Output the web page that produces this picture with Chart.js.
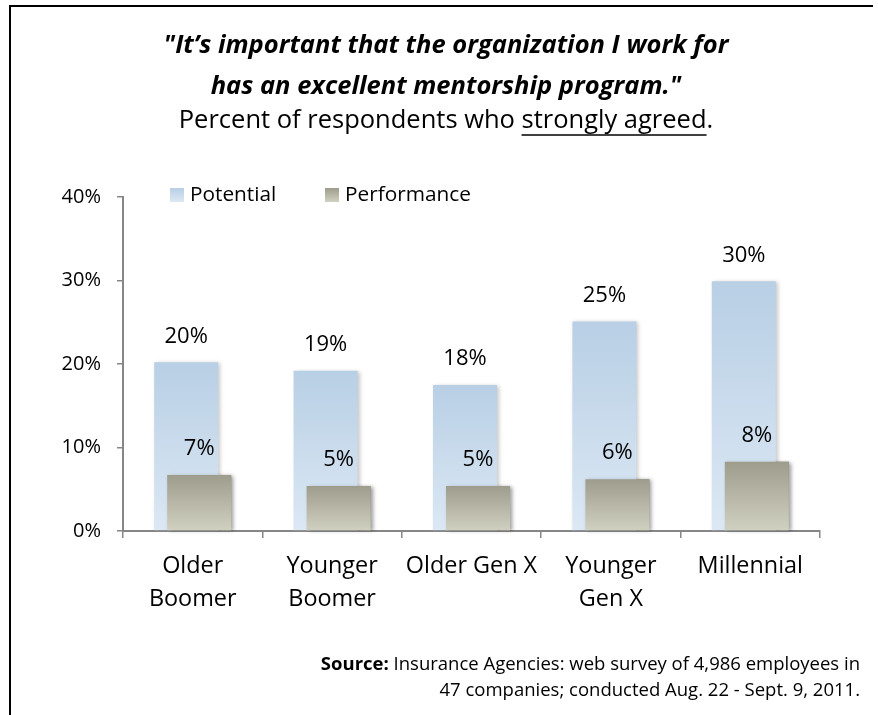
<!DOCTYPE html>
<html>
<head>
<meta charset="utf-8">
<script src="https://cdn.jsdelivr.net/npm/chart.js@4.4.1/dist/chart.umd.min.js"></script>
<style>
html,body{margin:0;padding:0;background:#ffffff;}
canvas{display:block;}
</style>
</head>
<body>
<canvas id="c" width="878" height="715"></canvas>
<script>
// ---- data ----
const categories = [["Older", "Boomer"], ["Younger", "Boomer"], "Older Gen X", ["Younger", "Gen X"], "Millennial"];
const seriesNames = ["Potential", "Performance"];
const potential = [20.2, 19.2, 17.5, 25.1, 29.9];
const performance = [6.7, 5.4, 5.4, 6.2, 8.3];
const yTicks = [0, 10, 20, 30, 40];
const titleLines = ['"It\u2019s important that the organization I work for', 'has an excellent mentorship program."'];
const subtitleParts = ["Percent of respondents who ", "strongly agreed", "."];
const sourceBold = "Source:";
const sourceLines = [" Insurance Agencies: web survey of 4,986 employees in", "47 companies; conducted Aug. 22 - Sept. 9, 2011."];

// ---- styles ----
const FONT = "'Open Sans', 'Noto Sans', sans-serif";
const potColors = ["#b8cfe5", "#dce8f4"];
const perfColors = ["#9d9c8d", "#d1d1c1"];
const axisColor = "#868686";

function barGradient(cols) {
  return function (ctx) {
    const chart = ctx.chart;
    if (!chart.chartArea || ctx.type !== "data") return cols[0];
    const ys = chart.scales.y;
    const top = ys.getPixelForValue(ctx.raw);
    const bottom = ys.getPixelForValue(0);
    if (!isFinite(top) || !isFinite(bottom) || top === bottom) return cols[0];
    const g = chart.ctx.createLinearGradient(0, top, 0, bottom);
    g.addColorStop(0, cols[0]);
    g.addColorStop(1, cols[1]);
    return g;
  };
}

// shadows for bars, Performance redrawn in front, then value labels
const barsPlugin = {
  id: "barsFront",
  beforeDatasetsDraw(chart) {
    const c = chart.ctx;
    c.save();
    c.shadowColor = "rgba(0,0,0,0.22)";
    c.shadowBlur = 4;
    c.shadowOffsetX = 2;
    c.shadowOffsetY = 1;
  },
  afterDatasetsDraw(chart) {
    const c = chart.ctx;
    // bring Performance (dataset 1) to the front
    chart.getDatasetMeta(1).controller.draw();
    c.restore();

    c.save();
    c.font = "22px " + FONT;
    c.fillStyle = "#000";
    c.textAlign = "center";
    c.textBaseline = "middle";
    chart.data.datasets.forEach((ds, di) => {
      const meta = chart.getDatasetMeta(di);
      meta.data.forEach((bar, i) => {
        c.fillText(Math.round(ds.data[i]) + "%", bar.x, bar.y - 26);
      });
    });
    c.restore();
  }
};

const decorPlugin = {
  id: "decor",
  afterDraw(chart) {
    const c = chart.ctx;
    c.save();
    // frame
    c.strokeStyle = "#000";
    c.lineWidth = 2;
    c.beginPath();
    c.moveTo(10, 715);
    c.lineTo(10, 6);
    c.lineTo(873, 6);
    c.stroke();

    const cx = 446;
    c.fillStyle = "#000";
    c.textBaseline = "middle";
    c.textAlign = "center";
    // title
    c.font = "italic bold 25.5px " + FONT;
    c.fillText(titleLines[0], cx, 46);
    c.fillText(titleLines[1], cx, 87);
    // subtitle with underline
    c.font = "25.5px " + FONT;
    c.textAlign = "left";
    const full = subtitleParts.join("");
    const w = c.measureText(full).width;
    let x = cx - w / 2;
    const sy = 121;
    c.fillText(subtitleParts[0], x, sy);
    x += c.measureText(subtitleParts[0]).width;
    const uw = c.measureText(subtitleParts[1]).width;
    c.fillText(subtitleParts[1], x, sy);
    c.lineWidth = 1.5;
    c.beginPath();
    c.moveTo(x, sy + 14);
    c.lineTo(x + uw, sy + 14);
    c.stroke();
    x += uw;
    c.fillText(subtitleParts[2], x, sy);

    // legend
    const legendItems = [
      { x: 170, cols: potColors },
      { x: 325, cols: perfColors }
    ];
    c.font = "20.8px " + FONT;
    chart.data.datasets.forEach((ds, i) => {
      const it = legendItems[i];
      const g = c.createLinearGradient(0, 188, 0, 202);
      g.addColorStop(0, it.cols[0]);
      g.addColorStop(1, it.cols[1]);
      c.fillStyle = g;
      c.fillRect(it.x, 188, 14, 14);
      c.fillStyle = "#000";
      c.fillText(ds.label, it.x + 20, 195);
    });

    // source
    c.textAlign = "right";
    const fs = "18.5px ";
    c.font = fs + FONT;
    const rx = 860;
    const w1 = c.measureText(sourceLines[0]).width;
    c.fillText(sourceLines[0], rx, 665);
    c.font = "bold " + fs + FONT;
    c.fillText(sourceBold, rx - w1, 665);
    c.font = fs + FONT;
    c.fillText(sourceLines[1], rx, 691);
    c.restore();
  }
};

const sep = 13;       // px between the two bar centres
const barW = 64;      // px bar width
const catW = 697 / categories.length;

new Chart(document.getElementById("c"), {
  type: "bar",
  data: {
    labels: categories,
    datasets: [
      {
        label: seriesNames[0],
        data: potential,
        backgroundColor: barGradient(potColors),
        borderWidth: 0,
        categoryPercentage: (2 * sep) / catW,
        barPercentage: barW / sep
      },
      {
        label: seriesNames[1],
        data: performance,
        backgroundColor: barGradient(perfColors),
        borderWidth: 0,
        categoryPercentage: (2 * sep) / catW,
        barPercentage: barW / sep
      }
    ]
  },
  options: {
    responsive: false,
    animation: false,
    devicePixelRatio: 1,
    layout: { padding: { top: 197, left: 0, right: 58, bottom: 0 } },
    plugins: {
      legend: { display: false },
      title: { display: false },
      tooltip: { enabled: false }
    },
    scales: {
      x: {
        type: "category",
        offset: true,
        grid: {
          display: true,
          offset: true,
          drawOnChartArea: false,
          drawTicks: true,
          tickLength: 7,
          color: axisColor,
          lineWidth: 1.5
        },
        border: { display: true, color: axisColor, width: 2 },
        ticks: {
          color: "#000",
          font: { family: FONT, size: 23.4, lineHeight: 1.41 },
          padding: 11.5,
          maxRotation: 0,
          autoSkip: false
        },
        afterFit(s) { s.height = 715 - 531; }
      },
      y: {
        min: 0,
        max: 40,
        afterBuildTicks(s) { s.ticks = yTicks.map(v => ({ value: v })); },
        ticks: {
          color: "#000",
          font: { family: FONT, size: 20 },
          padding: 16,
          callback: v => v + "%"
        },
        grid: {
          drawOnChartArea: false,
          drawTicks: true,
          tickLength: 6,
          color: axisColor,
          lineWidth: 1.5
        },
        border: { display: true, color: axisColor, width: 2 },
        afterFit(s) { s.width = 123; }
      }
    }
  },
  plugins: [barsPlugin, decorPlugin]
});
</script>
</body>
</html>
